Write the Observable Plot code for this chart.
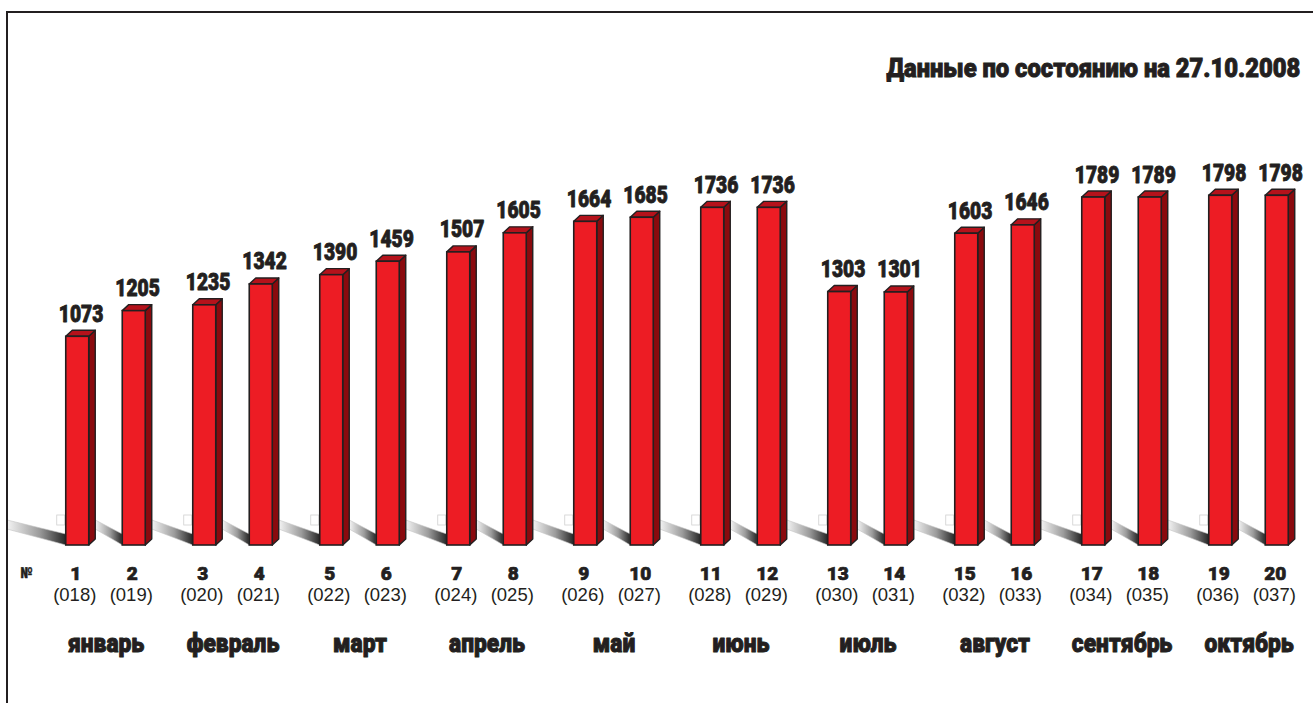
<!DOCTYPE html>
<html>
<head>
<meta charset="utf-8">
<script src="https://cdn.jsdelivr.net/npm/d3@7"></script>
<script src="https://cdn.jsdelivr.net/npm/@observablehq/plot@0.6"></script>
<style>
  html, body { margin: 0; padding: 0; background: #fff; }
  #wrap { position: relative; width: 1313px; height: 703px; overflow: hidden; }
  #frame { position: absolute; left: 6px; top: 11px; right: -10px; bottom: -10px;
           border-left: 2px solid #231f20; border-top: 2px solid #231f20; pointer-events: none; }
  #title { position: absolute; right: 13px; top: 56px; line-height: 26px;
           font-family: Roboto, "DejaVu Sans Condensed", sans-serif;
           font-weight: 900; font-size: 25px; color: #231f20; white-space: nowrap;
           -webkit-text-stroke: 0.9px #231f20; transform-origin: right center; }
  #chart { position: absolute; left: 0; top: 0; }
</style>
</head>
<body>
<div id="wrap">
  <div id="chart"></div>
  <div id="frame"></div>
  <div id="title"></div>
</div>
<script>
// ---- data ----
const titleText = "Данные по состоянию на 27.10.2008";
const months = ["январь", "февраль", "март", "апрель", "май", "июнь", "июль", "август", "сентябрь", "октябрь"];
const values = [1073, 1205, 1235, 1342, 1390, 1459, 1507, 1605, 1664, 1685,
                1736, 1736, 1303, 1301, 1603, 1646, 1789, 1789, 1798, 1798];
const issueNumbers = ["1","2","3","4","5","6","7","8","9","10","11","12","13","14","15","16","17","18","19","20"];
const issueCodes = ["(018)","(019)","(020)","(021)","(022)","(023)","(024)","(025)","(026)","(027)",
                    "(028)","(029)","(030)","(031)","(032)","(033)","(034)","(035)","(036)","(037)"];
const numberSign = "№";

// ---- layout ----
const W = 1313, H = 703;
const mL = 42, mR = 1, mT = 156, mB = 158;
const yMax = 2000;
const pxPerX = (W - mL - mR) / months.length;
const pxPerY = (H - mT - mB) / yMax;
const px2x = p => p / pxPerX;
const px2y = p => p / pxPerY;
const halfW = px2x(11.5), side = px2x(6.5), depth = px2y(6);
const pairOffset = px2x(28.25);
const frameLeftX = -0.5 + px2x(7 - mL);

const red = "#ed1c24", redTop = "#b5121b", redSide = "#8a0a0e", ink = "#231f20";
const condensed = "Roboto, 'DejaVu Sans Condensed', sans-serif";   // compressed afterwards
const monthFont = "Roboto, 'DejaVu Sans Condensed', Arial, sans-serif"; // compressed afterwards
const heavy = "'Roboto', 'DejaVu Sans', sans-serif";
const regular = "'Liberation Sans', Arial, sans-serif";

const bars = values.map((v, i) => {
  const g = Math.floor(i / 2);
  const x = g + (i % 2 ? 1 : -1) * pairOffset;
  return {i, g, v, x, xl: x - halfW, xr: x + halfW, num: issueNumbers[i], code: issueCodes[i]};
});

const shadowPts = [], sidePts = [], topPts = [];
bars.forEach((b, i) => {
  const start = i === 0 ? frameLeftX : bars[i - 1].xr + side;
  shadowPts.push({id: i, x: start, y1: px2y(16), y2: px2y(25)});
  shadowPts.push({id: i, x: b.xl, y1: 0, y2: px2y(11)});
  sidePts.push({id: i, x: b.xr, y1: 0, y2: b.v});
  sidePts.push({id: i, x: b.xr + side, y1: depth, y2: b.v + depth});
  topPts.push({id: i, y: b.v, x1: b.xl, x2: b.xr});
  topPts.push({id: i, y: b.v + depth, x1: b.xl + side, x2: b.xr + side});
});
const oddBars = bars.filter(b => b.i % 2 === 0);

const chart = Plot.plot({
  width: W, height: H,
  marginLeft: mL, marginRight: mR, marginTop: mT, marginBottom: mB,
  x: {type: "linear", domain: [-0.5, months.length - 0.5], axis: null},
  y: {type: "linear", domain: [0, yMax], axis: null},
  style: {background: "transparent", overflow: "visible"},
  marks: [
    Plot.areaY(shadowPts, {x: "x", y1: "y1", y2: "y2", z: "id", curve: "linear",
      fill: "url(#floorShade)", stroke: "#c4c4c4", strokeWidth: 0.6}),
    Plot.rect(oddBars, {x1: d => d.xl - px2x(9), x2: d => d.xl - px2x(1),
      y1: px2y(20), y2: px2y(30), fill: "none", stroke: "#d0d0d0", strokeWidth: 0.8}),
    Plot.areaY(sidePts, {x: "x", y1: "y1", y2: "y2", z: "id", curve: "linear",
      fill: redSide, stroke: ink, strokeWidth: 1.4, strokeLinejoin: "round"}),
    Plot.areaX(topPts, {y: "y", x1: "x1", x2: "x2", z: "id", curve: "linear",
      fill: redTop, stroke: ink, strokeWidth: 1.4, strokeLinejoin: "round"}),
    Plot.rect(bars, {x1: "xl", x2: "xr", y1: 0, y2: "v",
      fill: red, stroke: ink, strokeWidth: 1.6}),
    Plot.text(bars, {x: d => d.x + side / 2, y: "v", text: d => String(d.v),
      lineAnchor: "bottom", dy: -15, fontSize: 24, fontWeight: 900,
      fontFamily: condensed, fill: ink, stroke: ink, strokeWidth: 0.9}),
    Plot.text(bars, {x: "x", y: 0, text: "num", lineAnchor: "bottom", dy: 34, dx: -2,
      fontSize: 19, fontWeight: 900, fontFamily: heavy, fill: ink, stroke: ink, strokeWidth: 0.7}),
    Plot.text(bars, {x: "x", y: 0, text: "code", lineAnchor: "bottom", dy: 55, dx: -3,
      fontSize: 18.5, fontFamily: regular, fill: ink}),
    Plot.text(months, {x: (d, i) => i, y: 0, text: d => d, lineAnchor: "bottom", dy: 106,
      fontSize: 26.5, fontWeight: 900, fontFamily: monthFont, fill: ink, stroke: ink, strokeWidth: 1}),
    Plot.text([numberSign], {x: -0.5, y: 0, text: d => d, lineAnchor: "bottom", dy: 32, dx: -16,
      fontSize: 15, fontWeight: 900, fontFamily: condensed, fill: ink, stroke: ink, strokeWidth: 0.5})
  ]
});

const defs = d3.select(chart).insert("defs", ":first-child");
const grad = defs.append("linearGradient").attr("id", "floorShade")
  .attr("x1", "0").attr("y1", "0").attr("x2", "1").attr("y2", "0");
grad.append("stop").attr("offset", "0").attr("stop-color", "#f4f4f4");
grad.append("stop").attr("offset", "0.55").attr("stop-color", "#9c9c9c");
grad.append("stop").attr("offset", "1").attr("stop-color", "#262626");

document.getElementById("chart").appendChild(chart);

// horizontally compress the heavy "condensed" labels
function squeezeText(family, factor) {
  d3.select(chart).selectAll("g").filter(function () {
    return this.getAttribute("font-family") === family;
  }).selectAll("text").each(function () {
    const L = this.getComputedTextLength();
    this.setAttribute("textLength", (L * factor).toFixed(2));
    this.setAttribute("lengthAdjust", "spacingAndGlyphs");
  });
}
squeezeText(condensed, 0.8);
squeezeText(monthFont, 0.86);

const titleEl = document.getElementById("title");
titleEl.textContent = titleText;
const tw = titleEl.getBoundingClientRect().width;
titleEl.style.transform = `scaleX(${(414 / tw).toFixed(4)})`;
</script>
</body>
</html>
